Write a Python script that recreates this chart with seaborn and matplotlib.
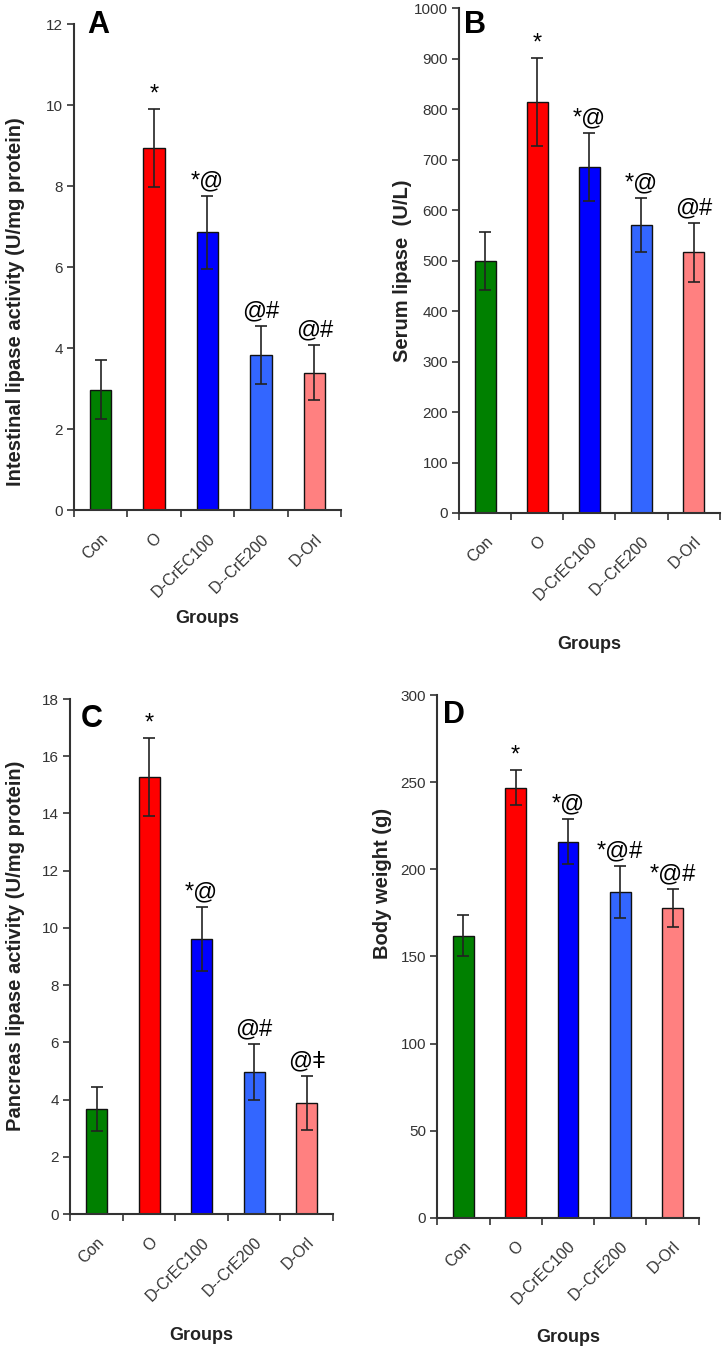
import numpy as np
import pandas as pd
import matplotlib
matplotlib.use("Agg")
import matplotlib.pyplot as plt
import seaborn as sns

groups = ["Con", "O", "D-CrEC100", "D--CrE200", "D-Orl"]
bar_colors = ["#008000", "#ff0000", "#0000ff", "#3366ff", "#ff8080"]

# panel A - intestinal lipase
intestinal = [2.98, 8.95, 6.86, 3.83, 3.40]
intestinal_err = [0.72, 0.97, 0.90, 0.72, 0.68]
intestinal_sig = ["", "*", "*@", "@#", "@#"]

# panel B - serum lipase
serum = [499, 814, 685, 570, 516]
serum_err = [57, 88, 68, 54, 58]
serum_sig = ["", "*", "*@", "*@", "@#"]

# panel C - pancreas lipase
pancreas = [3.67, 15.28, 9.62, 4.97, 3.88]
pancreas_err = [0.77, 1.36, 1.12, 0.97, 0.95]
pancreas_sig = ["", "*", "*@", "@#", "@ǂ"]

# panel D - body weight
weight = [162, 247, 216, 187, 178]
weight_err = [12, 10, 13, 15, 11]
weight_sig = ["", "*", "*@", "*@#", "*@#"]

sns.set_theme(style="white")
plt.rcParams["font.family"] = ["Liberation Sans", "DejaVu Sans"]

fig = plt.figure(figsize=(7.24, 13.5), dpi=100)

# letter, values, errors, marks, ylabel, ylim, yticks, axes rect, ylabel pos, xlabel y, letter pos
panels = [
    ("A", intestinal, intestinal_err, intestinal_sig, "Intestinal lipase activity (U/mg protein)",
     (0, 12), np.arange(0, 13, 2), [0.102, 0.622, 0.369, 0.360], (-0.22, 0.43), -0.222, (0.05, 1.03)),
    ("B", serum, serum_err, serum_sig, "Serum lipase  (U/L)",
     (0, 1000), np.arange(0, 1001, 100), [0.634, 0.620, 0.360, 0.374], (-0.218, 0.48), -0.26, (0.02, 0.997)),
    ("C", pancreas, pancreas_err, pancreas_sig, "Pancreas lipase activity (U/mg protein)",
     (0, 18), np.arange(0, 19, 2), [0.097, 0.1007, 0.363, 0.3815], (-0.21, 0.52), -0.235, (0.04, 0.99)),
    ("D", weight, weight_err, weight_sig, "Body weight (g)",
     (0, 300), np.arange(0, 301, 50), [0.604, 0.098, 0.361, 0.387], (-0.21, 0.64), -0.23, (0.02, 0.99)),
]

for letter, vals, errs, sig, ylab, ylim, yticks, rect, ylpos, xly, lpos in panels:
    ax = fig.add_axes(rect)
    df = pd.DataFrame({"group": groups, "value": vals})
    sns.barplot(data=df, x="group", y="value", hue="group", palette=bar_colors,
                saturation=1, width=0.4, edgecolor="#111111", linewidth=1.0,
                legend=False, ax=ax)
    ax.errorbar(np.arange(len(groups)), vals, yerr=errs, fmt="none",
                ecolor="#222222", elinewidth=1.2, capsize=4, capthick=1.2)
    for i, s in enumerate(sig):
        if s:
            ax.annotate(s, (i, vals[i] + errs[i]), xytext=(0, 6), textcoords="offset points",
                        ha="center", va="baseline", fontsize=17, color="black")

    ax.set_xlim(-0.5, 4.5)
    ax.set_ylim(*ylim)
    ax.set_yticks(yticks)
    ax.set_yticklabels([str(t) for t in yticks], fontsize=11, color="#333333")
    ax.set_xticks(np.arange(-0.5, 5, 1.0))
    ax.set_xticklabels([])
    ax.set_xticks(np.arange(len(groups)), minor=True)
    ax.set_xticklabels(groups, minor=True, rotation=45, ha="right",
                       rotation_mode="anchor", fontsize=11.5, color="#333333")
    ax.tick_params(axis="x", which="major", direction="out", length=5, width=1.2,
                   color="#333333", bottom=True)
    ax.tick_params(axis="x", which="minor", length=0, pad=15)
    ax.tick_params(axis="y", direction="out", length=5, width=1.2, color="#333333",
                   left=True, pad=3)

    for side in ["top", "right"]:
        ax.spines[side].set_visible(False)
    for side in ["left", "bottom"]:
        ax.spines[side].set_color("#333333")
        ax.spines[side].set_linewidth(1.5)

    ax.set_ylabel(ylab, fontsize=14.5, fontweight="bold", color="#222222", va="center")
    ax.yaxis.set_label_coords(*ylpos)
    ax.set_xlabel("Groups", fontsize=13, fontweight="bold", color="#222222", va="center")
    ax.xaxis.set_label_coords(0.5, xly)
    ax.text(lpos[0], lpos[1], letter, transform=ax.transAxes, fontsize=22,
            fontweight="bold", va="top", ha="left", color="black")

fig.savefig("out.png", dpi=100, facecolor="white")
